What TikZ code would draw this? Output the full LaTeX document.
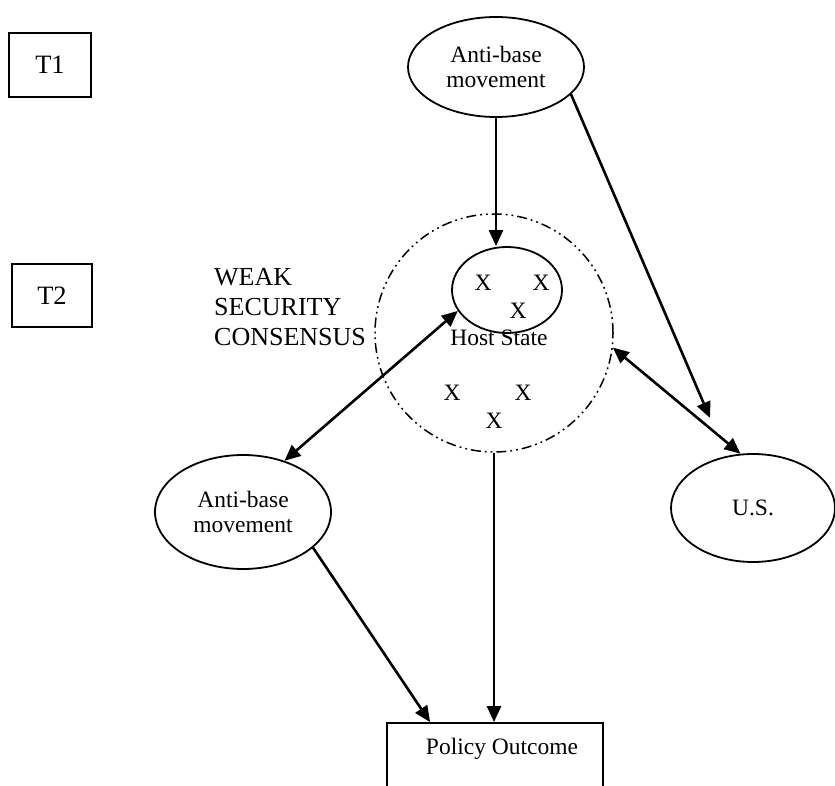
\documentclass[tikz,border=0pt]{standalone}
\usepackage{fontspec}
\setmainfont{Liberation Serif}
\usetikzlibrary{shapes.geometric,arrows.meta,calc}
\begin{document}
\begin{tikzpicture}[x=1pt,y=-1pt,
  oval/.style={draw, ellipse, line width=1.8pt, inner sep=0pt, align=center, font=\fontsize{23.5}{25.5}\selectfont},
  tbox/.style={draw, line width=1.8pt, inner sep=0pt, font=\fontsize{26.5}{30}\selectfont},
  lbl/.style={inner sep=0pt, font=\fontsize{23.5}{26}\selectfont},
  arr/.style={line width=2.6pt, -{Triangle[length=16pt,width=14pt]}},
  darr/.style={line width=2.6pt, {Triangle[length=16pt,width=14pt]}-{Triangle[length=16pt,width=14pt]}},
  ddd/.style={line width=1.5pt, dash pattern=on 10pt off 4pt on 1.8pt off 4pt on 1.8pt off 4pt}]
\path[use as bounding box, clip] (0,0) rectangle (835,786);
% nodes
\node[tbox, minimum width=82pt, minimum height=64pt] (t1) at (50,65) {T1};
\node[tbox, minimum width=80pt, minimum height=63pt] (t2) at (52,295.5) {T2};
\node[inner sep=0pt, anchor=north west, align=left, font=\fontsize{26}{30}\selectfont] (weak) at (214,268) {WEAK\\SECURITY\\CONSENSUS};
\node[oval, minimum width=176pt, minimum height=100pt] (abtop) at (496,67) {Anti-base\\movement};
\node[draw, ellipse, line width=1.8pt, minimum width=110pt, minimum height=86pt, inner sep=0pt] (host) at (507,290) {};
\node[circle, draw, ddd, minimum size=238pt, inner sep=0pt] (cons) at (494,333) {};
\node[oval, minimum width=176pt, minimum height=114pt] (ableft) at (243,512) {Anti-base\\movement};
\node[oval, minimum width=164pt, minimum height=108pt] (us) at (753,508) {U.S.};
\node[draw, line width=1.8pt, minimum width=216pt, minimum height=90pt, inner sep=0pt] (box) at (495,768) {};
\node[lbl] (po) at (502,749) {Policy Outcome};
\node[lbl] (hs) at (499,338) {Host State};
\node[lbl] (x1) at (483,283) {X};
\node[lbl] (x2) at (541,283) {X};
\node[lbl] (x3) at (518,311) {X};
\node[lbl] (x4) at (452,393) {X};
\node[lbl] (x5) at (523,393) {X};
\node[lbl] (x6) at (494,421) {X};
\coordinate (usin) at (710,418);
% connectors
\draw[arr] (abtop.south) -- (abtop.south |- host.north);
\draw[arr] (abtop.-20) -- (usin);
\draw[darr] (cons.-7) -- (us.103);
\draw[darr] (host.203) -- (ableft.51);
\draw[arr] (ableft.-27) -- ([xshift=44pt]box.north west);
\draw[arr] (cons.south) -- (cons.south |- box.north);
\end{tikzpicture}
\end{document}
